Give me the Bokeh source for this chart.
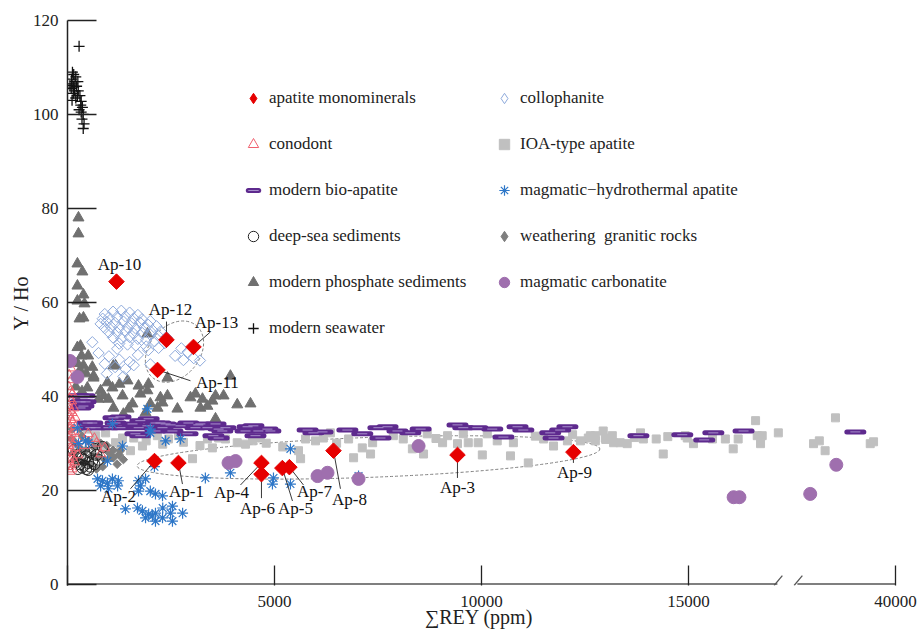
import math
from bokeh.plotting import figure
from bokeh.models import Range1d, FixedTicker, Legend, LegendItem
from bokeh.core.properties import value
from bokeh.embed import file_html
from bokeh.resources import INLINE

FONT = "Liberation Serif"
NAN = float("nan")

# ---------------- data (x = ΣREY in axis units, y = Y/Ho) ----------------
X_TICKS = [0, 5000, 10000, 15000, 20000]
X_TICK_LABELS = {0: "", 5000: "5000", 10000: "10000", 15000: "15000", 20000: "40000"}
Y_TICKS = [0, 20, 40, 60, 80, 100, 120]

AP_NAMES = ["Ap-1", "Ap-2", "Ap-3", "Ap-4", "Ap-5", "Ap-6", "Ap-7", "Ap-8", "Ap-9",
            "Ap-10", "Ap-11", "Ap-12", "Ap-13"]
AP_REY = [2680, 2101, 9420, 4685, 5190, 4685, 5360, 6425, 12220, 1183, 2174, 2391, 3043]
AP_YHO = [25.8, 26.2, 27.5, 25.8, 24.7, 23.4, 24.9, 28.4, 28.1, 64.4, 45.6, 52.0, 50.5]
# label text anchors and leader-line ends (annotation positions)
AP_LABEL_X = [2874, 1232, 9419, 3961, 5506, 4589, 5965, 6810, 12245, 1256, 3622, 2487, 3598]
AP_LABEL_Y = [19.8, 18.6, 20.5, 19.4, 16.0, 16.2, 19.8, 18.1, 23.7, 68.0, 42.9, 58.4, 55.6]
AP_LEAD_X = [2777, 1521, 9419, 4178, 5434, 4685, 5700, 6593, 12220, None, 2970, 2391, 3453]
AP_LEAD_Y = [21.3, 20.3, 22.6, 21.1, 17.7, 18.3, 21.1, 20.3, 25.8, None, 43.3, 55.9, 53.7]

CONO_X = [50, 80, 40, 90, 30, 70, 120, 50, 100, 30, 150, 60, 110, 40, 180, 80, 130, 30, 200, 60,
          160, 100, 40, 220, 70, 140, 30, 190, 90, 50, 250, 120, 40, 170, 80, 30, 110, 60,
          420, 650, 800, 900, 500, 700]
CONO_Y = [47, 46, 44.5, 43.5, 42, 41, 40.5, 39.5, 39, 38, 37.5, 37, 36.5, 36, 35.5, 35, 34.5, 34,
          33.5, 33, 32.5, 32, 31.5, 31, 30.5, 30, 29.5, 29, 28.5, 28, 27.5, 27, 26.5, 26, 25.5,
          25, 24.5, 24, 29.5, 31, 27.7, 29, 32, 30]

BIO_X = [270, 410, 315, 435, 315, 385, 485, 600, 555, 680, 990, 1110, 1160, 1280, 1280, 1570,
         1640, 1720, 1760, 1760, 1930, 1960, 2125, 2125, 2245, 2295, 2370, 2490, 2535, 2730,
         2900, 2920, 3090, 3160, 3210, 3380, 3525, 3575, 3650, 3650, 3740, 3815, 4300, 4350,
         4490, 4540, 4610, 4830, 4900, 5800, 5940, 6160, 6760, 7120, 7510, 7560, 7730, 7970,
         8280, 8530, 9420, 9560, 9900, 10260, 10530, 10870, 11010, 11660, 11740, 11900, 12075,
         13790, 14850, 15380, 15600, 16330, 19030]
BIO_Y = [40.1, 40.1, 38.8, 38.8, 37.5, 37.9, 34.3, 34.3, 33.3, 33.3, 33.3, 35.4, 34.3, 35.6,
         33.3, 34.1, 32.0, 33.3, 34.8, 31.6, 33.7, 35.2, 34.3, 32.6, 34.3, 33.3, 34.1, 33.9,
         32.6, 33.7, 32.0, 34.3, 33.3, 33.9, 34.1, 33.3, 31.6, 34.1, 33.0, 31.1, 32.6, 33.3,
         32.6, 33.5, 33.7, 31.6, 32.6, 33.0, 32.6, 32.8, 32.2, 32.4, 32.8, 32.0, 33.3, 31.1,
         33.5, 32.6, 32.2, 33.0, 33.9, 33.3, 33.3, 33.0, 31.3, 33.5, 32.8, 32.2, 31.1, 32.8,
         33.5, 31.6, 31.8, 30.7, 32.2, 32.6, 32.4]

DEEP_X = [250, 350, 450, 550, 650, 700, 300, 400, 500, 600, 200, 350, 450, 550, 250, 650, 750,
          400, 500, 300, 850, 150]
DEEP_Y = [27.5, 26.8, 27.2, 28.0, 28.8, 27.5, 25.5, 25.2, 25.8, 26.2, 26.0, 24.8, 24.5, 25.0,
          24.5, 25.5, 26.5, 26.5, 24.3, 27.0, 29.2, 28.5]

PHOS_X = [265, 265, 240, 360, 240, 385, 240, 410, 290, 385, 315, 240, 500, 340, 385, 1160, 1930,
          630, 1110, 630, 965, 1256, 1450, 480, 800, 1085, 1715, 1956, 2415, 2970, 3260, 3500,
          3770, 3935, 4100, 4420, 2655, 3210, 3380, 1760, 2000, 1110, 1475, 750, 1330, 2175,
          2245, 3575, 870, 2415, 1930, 1350, 1885, 1570, 990, 2295, 3090, 3575, 240, 300, 200,
          450, 600, 240, 350]
PHOS_Y = [78.0, 74.6, 68.2, 66.5, 63.5, 61.6, 60.3, 59.7, 56.5, 56.7, 50.7, 50.4, 48.6, 48.6,
          46.5, 46.5, 53.3, 44.3, 46.5, 43.9, 42.9, 42.6, 43.3, 41.8, 41.2, 41.8, 42.2, 42.6,
          40.1, 39.7, 39.4, 39.0, 40.1, 44.3, 38.2, 38.4, 37.3, 37.5, 37.9, 40.5, 38.4, 37.5,
          37.3, 39.4, 40.1, 37.5, 39.7, 35.2, 40.1, 43.9, 41.2, 36.2, 36.5, 38.4, 39.4, 38.6,
          40.5, 40.1, 47.0, 45.5, 42.0, 44.8, 46.2, 39.0, 41.0]

SEA_X = [280, 120, 150, 200, 100, 180, 250, 130, 220, 90, 170, 260, 140, 300, 200, 110, 320,
         360, 280, 330, 380, 350, 400, 380, 150, 240, 60, 330]
SEA_Y = [114.5, 109, 108.5, 108, 107.5, 107, 107, 106.5, 106, 105.5, 105, 105, 104.5, 104,
         103.5, 103, 102, 101.5, 101, 100.5, 100, 99, 98, 97, 105.8, 104, 106.2, 102.8]

COLL_X = [900, 1100, 1300, 1500, 1700, 850, 1000, 1200, 1400, 1600, 1800, 2000, 800, 950, 1150,
          1350, 1550, 1750, 1950, 2150, 900, 1050, 1250, 1450, 1650, 1850, 2050, 2250, 1000,
          1200, 1400, 1600, 1800, 2000, 2200, 2400, 1100, 1300, 1500, 1700, 1900, 2100, 2350,
          1250, 1450, 1650, 1900, 2200, 750, 1000, 1250, 1500, 1700, 1950, 900, 1150, 1400,
          1600, 2000, 2750, 2900, 3050, 2600, 2800, 3200, 950, 1350, 1200, 600]
COLL_Y = [57.5, 58.0, 58.2, 57.8, 57.3, 56.5, 56.8, 56.9, 57.0, 56.6, 56.4, 56.0, 55.4, 55.8,
          55.6, 55.9, 55.5, 55.7, 55.2, 54.9, 54.5, 54.8, 54.6, 54.7, 54.4, 54.6, 54.1, 53.8,
          53.6, 53.5, 53.8, 53.3, 53.5, 53.1, 52.8, 52.5, 52.5, 52.3, 52.6, 52.2, 52.0, 51.7,
          51.3, 51.2, 51.0, 50.8, 50.6, 50.3, 49.2, 48.5, 47.8, 47.3, 48.8, 49.8, 46.9, 46.2,
          45.8, 46.6, 46.8, 50.2, 49.4, 48.1, 48.6, 47.7, 47.6, 44.8, 44.2, 50.1, 51.5]

IOA_X = [480, 680, 680, 870, 920, 1110, 1160, 1280, 1330, 1520, 1600, 1810, 2170, 2440, 2680,
         3020, 3380, 3500, 3650, 3815, 4100, 4470, 4660, 5580, 5630, 5750, 5990, 6180, 6350,
         6790, 6910, 7120, 7320, 7370, 7870, 8110, 8330, 8600, 8690, 9060, 9180, 9420, 9560,
         9680, 9920, 10020, 10140, 10380, 10700, 10770, 11130, 11500, 11740, 12075, 12390,
         12580, 12630, 12750, 12750, 12940, 12990, 13160, 13190, 13350, 13520, 13840, 13910,
         14220, 14390, 14920, 14970, 15120, 15580, 15890, 16080, 16200, 16620, 16660, 16740,
         16780, 17170, 18020, 18160, 18300, 18550, 19390, 19470,
         1900, 2300, 2800, 3200, 4300, 4800, 5200, 6500, 8900, 11300, 12200, 13000, 13700, 14500]
IOA_Y = [33.0, 31.6, 30.1, 28.8, 32.2, 27.9, 30.1, 29.4, 31.1, 28.4, 31.1, 29.4, 31.6, 30.9,
         31.6, 26.7, 30.9, 29.0, 31.1, 30.9, 30.1, 30.5, 31.1, 28.4, 26.7, 30.9, 30.5, 31.1,
         32.2, 30.9, 26.9, 29.0, 27.7, 30.1, 31.6, 30.9, 28.8, 27.7, 32.0, 30.1, 31.6, 29.9,
         32.0, 30.1, 30.1, 27.5, 32.0, 30.5, 27.3, 30.1, 25.8, 30.9, 29.4, 30.5, 30.5, 31.1,
         31.6, 30.5, 31.6, 32.6, 31.1, 31.6, 30.1, 30.1, 29.9, 32.2, 30.9, 30.9, 27.7, 31.6,
         31.1, 29.9, 30.9, 30.9, 28.8, 30.9, 34.8, 31.6, 29.9, 31.6, 32.2, 29.9, 30.5, 28.4,
         35.4, 29.9, 30.3,
         30.5, 29.8, 30.2, 29.5, 29.8, 30.0, 29.2, 30.0, 31.0, 31.5, 31.8, 30.8, 31.2, 31.4]

MH_X = [240, 435, 265, 510, 965, 1330, 1085, 1930, 2000, 2000, 2370, 2730, 725, 845, 965, 800,
        1085, 1210, 990, 1230, 1715, 1885, 1760, 1715, 2000, 2125, 2295, 1400, 1690, 1810,
        1960, 2125, 1885, 2125, 2295, 2535, 2490, 2780, 2535, 3330, 5385, 3935, 4975, 4950,
        5385, 7030, 2100, 2050, 2300]
MH_Y = [33.3, 30.5, 29.9, 30.1, 26.2, 29.4, 34.1, 37.3, 33.0, 32.2, 30.5, 30.9, 22.4, 22.0,
        21.5, 20.9, 22.4, 20.9, 20.3, 22.0, 22.0, 22.4, 20.9, 19.8, 19.8, 19.2, 18.8, 16.0,
        16.2, 15.6, 14.9, 15.1, 14.1, 13.4, 14.1, 16.6, 15.1, 15.1, 13.4, 22.6, 28.8, 23.7,
        22.6, 21.3, 21.3, 23.0, 25.0, 14.5, 16.2]

WEA_X = [100, 200, 350, 500, 650, 800, 950, 1100, 1250, 1350, 150, 300, 450, 600, 750, 900,
         1050, 1200, 200, 400, 550, 700, 850, 1000, 120, 300, 1280, 1110]
WEA_Y = [31.0, 30.0, 31.5, 30.5, 29.0, 30.0, 29.5, 28.5, 27.5, 26.5, 28.0, 29.0, 28.5, 27.5,
         27.0, 26.5, 27.0, 25.5, 26.5, 26.0, 25.5, 24.5, 25.0, 28.0, 33.0, 33.0, 28.4, 26.9]

CARB_X = [60, 240, 3890, 4060, 8480, 6040, 6280, 7030, 16090, 16230, 17940, 18570]
CARB_Y = [47.5, 44.1, 25.8, 26.2, 29.4, 23.0, 23.7, 22.4, 18.5, 18.5, 19.2, 25.4]

# dotted envelopes: centre x, centre y, width, height (data units), angle (deg)
ENV_X = [7270, 2584]
ENV_Y = [26.97, 49.5]
ENV_W = [11185, 1642]
ENV_H = [8.5, 10.7]
ENV_ANG = [2.1, 50]

# axis break (axis units)
BREAK_START = 17147
BREAK_END = 17630

# ---------------- figure ----------------
p = figure(width=921, height=632, output_backend="svg", toolbar_location=None,
           x_range=Range1d(0, 20000), y_range=Range1d(-0.3, 120),
           min_border_left=67, min_border_right=26, min_border_top=20, min_border_bottom=47)
p.outline_line_color = None
p.grid.visible = False
p.background_fill_color = "white"
p.border_fill_color = "white"

xa = p.xaxis[0]
xa.ticker = FixedTicker(ticks=X_TICKS)
xa.major_label_overrides = X_TICK_LABELS
xa.axis_line_color = None
xa.major_tick_in = 20
xa.major_tick_out = 0
xa.major_tick_line_color = "#222222"
xa.major_tick_line_width = 1.3
xa.minor_tick_line_color = None
xa.major_label_standoff = 10
xa.major_label_text_font = FONT
xa.major_label_text_font_size = "17px"
xa.major_label_text_color = "#222222"
xa.axis_label = "\u2211REY  (ppm)"
xa.axis_label_text_font = FONT
xa.axis_label_text_font_size = "20px"
xa.axis_label_text_font_style = "normal"
xa.axis_label_text_color = "#222222"
xa.axis_label_standoff = -4

ya = p.yaxis[0]
ya.ticker = FixedTicker(ticks=Y_TICKS)
ya.axis_line_color = "#222222"
ya.axis_line_width = 1.5
ya.major_tick_in = 29
ya.major_tick_out = 0
ya.major_tick_line_color = "#222222"
ya.major_tick_line_width = 1.3
ya.minor_tick_line_color = None
ya.major_label_standoff = 9
ya.major_label_text_font = FONT
ya.major_label_text_font_size = "17px"
ya.major_label_text_color = "#222222"
ya.axis_label = "Y / Ho"
ya.axis_label_text_font = FONT
ya.axis_label_text_font_size = "20px"
ya.axis_label_text_font_style = "normal"
ya.axis_label_text_color = "#222222"
ya.axis_label_standoff = -2

# x-axis line with break
p.segment(x0=[0, BREAK_END], y0=[0, 0], x1=[BREAK_START, 20000], y1=[0, 0],
          line_color="#555555", line_width=1.5)
p.segment(x0=[BREAK_START - 80, BREAK_END - 80], y0=[-0.3, -0.3],
          x1=[BREAK_START + 120, BREAK_END + 120], y1=[1.8, 1.8],
          line_color="#555555", line_width=1.2)

# envelopes
p.ellipse(x=ENV_X, y=ENV_Y, width=ENV_W, height=ENV_H,
          angle=[math.radians(a) for a in ENV_ANG], fill_color=None,
          line_color="#808080", line_dash="3 2", line_width=1)

r_ioa = p.scatter(IOA_X, IOA_Y, marker="square", size=8, fill_color="#c0c0c0",
                  line_color="#c0c0c0")
r_phos = p.scatter(PHOS_X, PHOS_Y, marker="triangle", size=11, fill_color="#707070",
                   line_color="#707070")
r_coll = p.scatter(COLL_X, COLL_Y, marker="square", angle=math.pi / 4, size=8,
                   fill_color=None, line_color="#8eaadc", line_width=1)
r_wea = p.scatter(WEA_X, WEA_Y, marker="square", angle=math.pi / 4, size=6,
                  fill_color="#7f7f7f", line_color="#7f7f7f")
r_deep = p.scatter(DEEP_X, DEEP_Y, marker="circle", size=11, fill_color=None,
                   line_color="#222222", line_width=1)
r_bio = p.scatter(BIO_X, BIO_Y, marker="dash", size=17, line_width=5, line_color="#5e2a8e",
                  line_cap="round")
r_bio2 = p.scatter(BIO_X, BIO_Y, marker="dash", size=10, line_width=1, line_color="#a890cc")
r_cono = p.scatter(CONO_X, CONO_Y, marker="triangle", size=10, fill_color=None,
                   line_color="#f0606e", line_width=1)
r_mh = p.scatter(MH_X, MH_Y, marker="asterisk", size=11, line_color="#2e77c8", line_width=1.2)
r_carb = p.scatter(CARB_X, CARB_Y, marker="circle", size=13, fill_color="#9f6fae",
                   line_color="#9f6fae")
r_sea = p.scatter(SEA_X, SEA_Y, marker="cross", size=11, line_color="#111111", line_width=1.3)

# leader lines and apatite points
lx0, ly0, lx1, ly1 = [], [], [], []
for x, y, ex, ey in zip(AP_REY, AP_YHO, AP_LEAD_X, AP_LEAD_Y):
    if ex is not None:
        lx0.append(x); ly0.append(y); lx1.append(ex); ly1.append(ey)
p.segment(x0=lx0, y0=ly0, x1=lx1, y1=ly1, line_color="#222222", line_width=0.9)

r_ap = p.scatter(AP_REY, AP_YHO, marker="square", angle=math.pi / 4, size=11,
                 fill_color="#e60000", line_color="#e60000")
p.text(x=AP_LABEL_X, y=AP_LABEL_Y, text=AP_NAMES, text_font=value(FONT),
       text_font_size="17px", text_align="center", text_baseline="middle",
       text_color="#111111")

# legend key proxies (legend keys are drawn unrotated, so use the diamond marker);
# a single NaN point keeps them invisible in the plot area
k_ap = p.scatter([NAN], [NAN], marker="diamond", fill_color="#e60000", line_color="#e60000")
k_coll = p.scatter([NAN], [NAN], marker="diamond", fill_color=None, line_color="#8eaadc")
k_wea = p.scatter([NAN], [NAN], marker="diamond", fill_color="#7f7f7f", line_color="#7f7f7f")

common = dict(orientation="vertical", spacing=20, glyph_height=26, glyph_width=26,
              label_height=26, label_standoff=3, padding=0, margin=0,
              border_line_color=None, background_fill_alpha=0,
              label_text_font=FONT, label_text_font_size="17px",
              label_text_color="#222222")
leg1 = Legend(items=[
    LegendItem(label="apatite monominerals", renderers=[k_ap]),
    LegendItem(label="conodont", renderers=[r_cono]),
    LegendItem(label="modern bio-apatite", renderers=[r_bio, r_bio2]),
    LegendItem(label="deep-sea sediments", renderers=[r_deep]),
    LegendItem(label="modern phosphate sediments", renderers=[r_phos]),
    LegendItem(label="modern seawater", renderers=[r_sea]),
], location=(173, 244), **common)
leg2 = Legend(items=[
    LegendItem(label="collophanite", renderers=[k_coll]),
    LegendItem(label="IOA-type apatite", renderers=[r_ioa]),
    LegendItem(label="magmatic\u2212hydrothermal apatite", renderers=[r_mh]),
    LegendItem(label="weathering  granitic rocks", renderers=[k_wea]),
    LegendItem(label="magmatic carbonatite", renderers=[r_carb]),
], location=(424, 290), **common)
p.add_layout(leg1)
p.add_layout(leg2)

open("out.html", "w").write(file_html(p, INLINE))
